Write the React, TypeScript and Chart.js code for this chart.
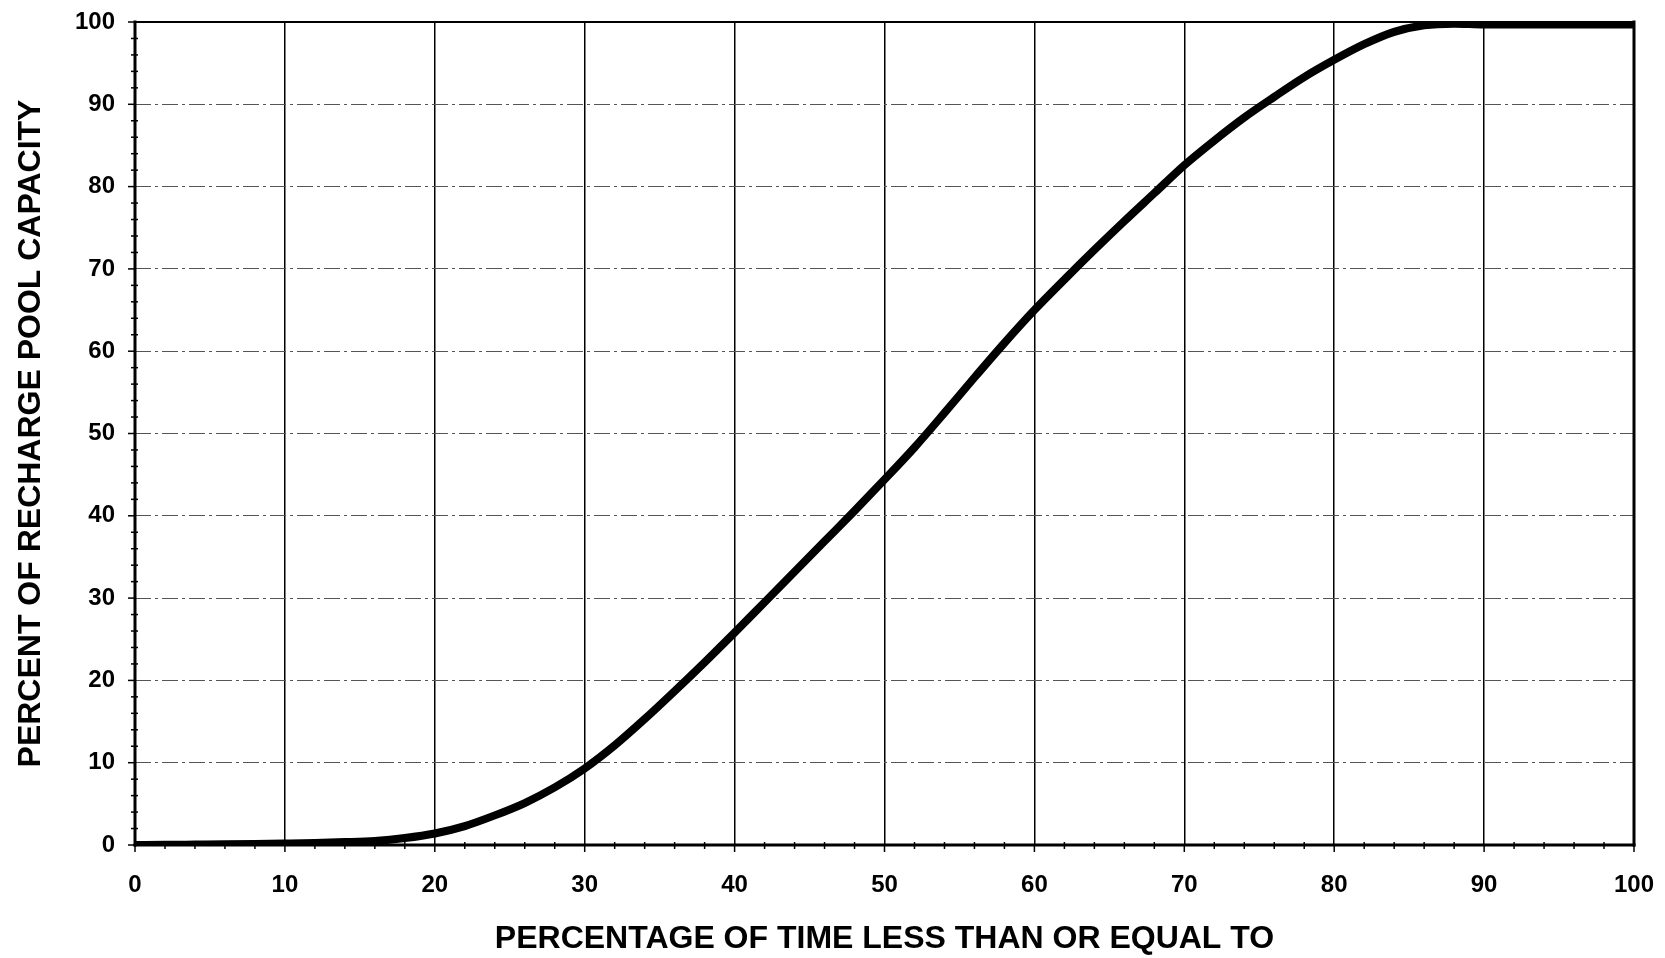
import React, { useEffect, useRef } from "react";
import { Chart, registerables } from "chart.js";

Chart.register(...registerables);

const xValues = [0, 2, 4, 6, 8, 10, 12, 14, 16, 18, 20, 22, 24, 26, 28, 30, 32, 34, 36, 38, 40, 42, 44, 46, 48, 50, 52, 54, 56, 58, 60, 62, 64, 66, 68, 70, 72, 74, 76, 78, 80, 82, 84, 86, 88, 90, 95, 100];
const yValues = [0, 0.02, 0.05, 0.08, 0.12, 0.18, 0.25, 0.35, 0.5, 0.85, 1.4, 2.3, 3.6, 5.1, 7.0, 9.3, 12.1, 15.3, 18.7, 22.2, 25.8, 29.5, 33.2, 36.9, 40.6, 44.4, 48.3, 52.5, 56.8, 61.0, 65.0, 68.7, 72.3, 75.8, 79.2, 82.6, 85.6, 88.4, 90.9, 93.3, 95.4, 97.3, 98.8, 99.6, 99.8, 99.7, 99.7, 99.7];
const xTickValues = [0, 10, 20, 30, 40, 50, 60, 70, 80, 90, 100];
const yTickValues = [0, 10, 20, 30, 40, 50, 60, 70, 80, 90, 100];
const minorStep = 2;
const xTitle = "PERCENTAGE OF TIME LESS THAN OR EQUAL TO";
const yTitle = "PERCENT OF RECHARGE POOL CAPACITY";

const FONT = "'Liberation Sans', Arial, sans-serif";

const framePlugin = {
  id: "frameAndTicks",
  beforeDatasetsDraw(chart: any) {
    const { ctx, chartArea } = chart;
    const { left, right, top, bottom } = chartArea;
    const xs = chart.scales.x;
    const ys = chart.scales.y;
    ctx.save();
    ctx.strokeStyle = "#000";
    ctx.lineCap = "square";
    const seg = (x1: number, y1: number, x2: number, y2: number, w: number) => {
      ctx.lineWidth = w;
      ctx.beginPath();
      ctx.moveTo(x1, y1);
      ctx.lineTo(x2, y2);
      ctx.stroke();
    };
    seg(left, top, left, bottom, 3);
    seg(left, bottom, right, bottom, 3);
    seg(right, top, right, bottom, 3);
    seg(left, top, right, top, 2);
    ctx.lineCap = "butt";
    ctx.lineWidth = 1.5;
    for (let v = 0; v <= 100; v += minorStep) {
      const major = xTickValues.includes(v);
      const px = xs.getPixelForValue(v);
      ctx.beginPath();
      ctx.moveTo(px, bottom - (major ? 0 : 3));
      ctx.lineTo(px, bottom + (major ? 7 : 4));
      ctx.stroke();
    }
    for (let v = 0; v <= 100; v += minorStep) {
      const major = yTickValues.includes(v);
      const py = ys.getPixelForValue(v);
      ctx.beginPath();
      ctx.moveTo(left + (major ? 0 : 3), py);
      ctx.lineTo(left - (major ? 7 : 4), py);
      ctx.stroke();
    }
    ctx.restore();
  },
};

export default function App() {
  const canvasRef = useRef<HTMLCanvasElement | null>(null);

  useEffect(() => {
    document.body.style.margin = "0";
    const canvas = canvasRef.current;
    if (!canvas) return;
    const points = xValues.map((x, i) => ({ x, y: yValues[i] }));
    const chart = new Chart(canvas, {
      type: "line",
      data: {
        datasets: [
          {
            data: points,
            borderColor: "#000",
            borderWidth: 8,
            pointRadius: 0,
            cubicInterpolationMode: "monotone",
            fill: false,
            borderCapStyle: "round",
            borderJoinStyle: "round",
          },
        ],
      },
      options: {
        animation: false,
        responsive: true,
        maintainAspectRatio: false,
        layout: { padding: { top: 22, right: 31, left: 0, bottom: 0 } },
        plugins: {
          legend: { display: false },
          tooltip: { enabled: false },
        },
        scales: {
          x: {
            type: "linear",
            min: 0,
            max: 100,
            afterBuildTicks: (scale: any) => {
              scale.ticks = xTickValues.map((v) => ({ value: v }));
            },
            afterFit: (scale: any) => {
              scale.height = 113;
            },
            ticks: {
              color: "#000",
              padding: 0,
              maxRotation: 0,
              autoSkip: false,
              font: { family: FONT, size: 24, weight: "bold" },
            },
            grid: {
              color: "#000",
              lineWidth: 1.5,
              drawTicks: true,
              tickLength: 26,
              tickColor: "rgba(0,0,0,0)",
            },
            border: { display: false },
            title: {
              display: true,
              text: xTitle,
              color: "#000",
              font: { family: FONT, size: 32, weight: "bold" },
              padding: { top: 0, bottom: 0 },
            },
          },
          y: {
            type: "linear",
            min: 0,
            max: 100,
            afterBuildTicks: (scale: any) => {
              scale.ticks = yTickValues.map((v) => ({ value: v }));
            },
            afterFit: (scale: any) => {
              scale.width = 135;
            },
            ticks: {
              color: "#000",
              padding: 0,
              autoSkip: false,
              font: { family: FONT, size: 24, weight: "bold" },
            },
            grid: {
              color: "#555",
              lineWidth: 1,
              drawTicks: true,
              tickLength: 20,
              tickColor: "rgba(0,0,0,0)",
            },
            border: { display: false, dash: [16, 4, 3, 4] },
            title: {
              display: true,
              text: yTitle,
              color: "#000",
              font: { family: FONT, size: 32, weight: "bold" },
              padding: { top: 12, bottom: 0 },
            },
          },
        },
      },
      plugins: [framePlugin],
    } as any);
    return () => chart.destroy();
  }, []);

  return (
    <div style={{ position: "relative", width: "1665px", height: "958px" }}>
      <canvas ref={canvasRef} />
    </div>
  );
}
